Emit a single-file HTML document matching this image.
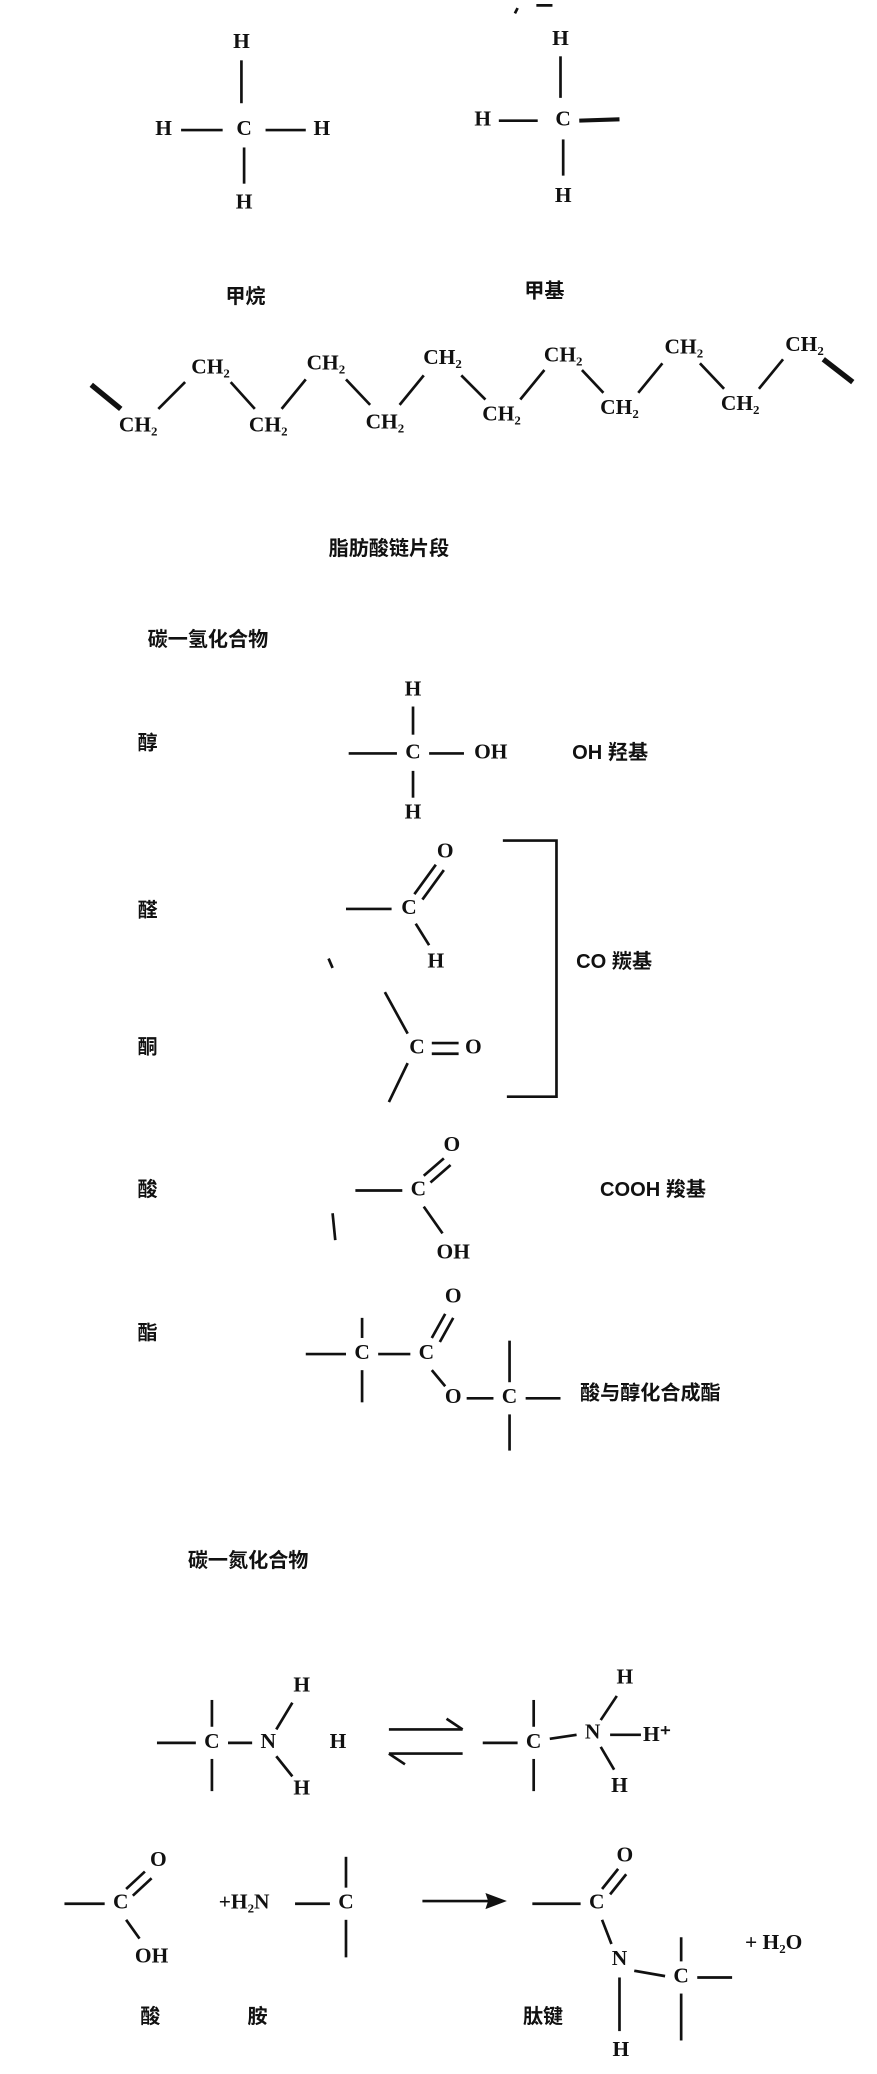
<!DOCTYPE html>
<html><head><meta charset="utf-8"><style>
html,body{margin:0;padding:0;background:#fff;}
svg{display:block}
text{font-family:"Liberation Serif","Noto Serif CJK SC",serif;font-size:16px;font-weight:bold;fill:#111;text-anchor:middle;dominant-baseline:middle}
.c{font-family:"Liberation Sans","Noto Sans CJK SC",sans-serif;font-size:15px}
line,path,polyline{stroke:#111;stroke-width:2;fill:none}
</style></head><body>
<svg width="877" height="2074" viewBox="0 0 654 1547" xmlns="http://www.w3.org/2000/svg">
<!-- methane -->
<text x="180" y="32">H</text><line x1="180" y1="45" x2="180" y2="77"/>
<text x="122" y="97">H</text><line x1="135" y1="97" x2="166" y2="97"/>
<text x="182" y="97">C</text><line x1="198" y1="97" x2="228" y2="97"/>
<text x="240" y="97">H</text><line x1="182" y1="110" x2="182" y2="137"/>
<text x="182" y="152">H</text>
<!-- methyl -->
<line x1="384" y1="10" x2="386" y2="6"/><line x1="400" y1="4" x2="412" y2="4"/>
<text x="418" y="30">H</text><line x1="418" y1="42" x2="418" y2="73"/>
<text x="360" y="90">H</text><line x1="372" y1="90" x2="401" y2="90"/>
<text x="420" y="90">C</text><line x1="432" y1="90" x2="462" y2="89" style="stroke-width:3"/>
<line x1="420" y1="104" x2="420" y2="131"/><text x="420" y="147">H</text>
<text class="c" x="183" y="222">甲烷</text><text class="c" x="406" y="218">甲基</text>
<!-- chain -->
<line x1="68" y1="287" x2="90" y2="305" style="stroke-width:4"/>
<text x="103" y="318">CH₂</text><text x="157" y="275">CH₂</text>
<text x="200" y="318">CH₂</text><text x="243" y="272">CH₂</text>
<text x="287" y="316">CH₂</text><text x="330" y="268">CH₂</text>
<text x="374" y="310">CH₂</text><text x="420" y="266">CH₂</text>
<text x="462" y="305">CH₂</text><text x="510" y="260">CH₂</text>
<text x="552" y="302">CH₂</text><text x="600" y="258">CH₂</text>
<line x1="118" y1="305" x2="138" y2="285"/><line x1="172" y1="285" x2="190" y2="305"/>
<line x1="210" y1="305" x2="228" y2="283"/><line x1="258" y1="283" x2="276" y2="302"/>
<line x1="298" y1="302" x2="316" y2="280"/><line x1="344" y1="280" x2="362" y2="298"/>
<line x1="388" y1="298" x2="406" y2="276"/><line x1="434" y1="276" x2="450" y2="293"/>
<line x1="476" y1="293" x2="494" y2="271"/><line x1="522" y1="271" x2="540" y2="290"/>
<line x1="566" y1="290" x2="584" y2="268"/><line x1="614" y1="268" x2="636" y2="285" style="stroke-width:4"/>
<text class="c" x="290" y="410">脂肪酸链片段</text>
<text class="c" x="155" y="478">碳一氢化合物</text>
<!-- alcohol -->
<text class="c" x="110" y="555">醇</text>
<text x="308" y="515">H</text><line x1="308" y1="527" x2="308" y2="548"/>
<line x1="260" y1="562" x2="296" y2="562"/><text x="308" y="562">C</text>
<line x1="320" y1="562" x2="346" y2="562"/><text x="366" y="562">OH</text>
<line x1="308" y1="575" x2="308" y2="595"/><text x="308" y="607">H</text>
<text class="c" x="455" y="562">OH 羟基</text>
<!-- aldehyde -->
<text class="c" x="110" y="680">醛</text>
<line x1="258" y1="678" x2="292" y2="678"/><text x="305" y="678">C</text>
<line x1="309" y1="667" x2="325" y2="645"/><line x1="315" y1="671" x2="331" y2="649"/>
<text x="332" y="636">O</text>
<line x1="310" y1="689" x2="320" y2="705"/><text x="325" y="718">H</text>
<line x1="245" y1="715" x2="248" y2="722"/>
<polyline points="375,627 415,627 415,818 378,818"/>
<text class="c" x="458" y="718">CO 羰基</text>
<!-- ketone -->
<text class="c" x="110" y="782">酮</text>
<line x1="287" y1="740" x2="304" y2="771"/><line x1="304" y1="793" x2="290" y2="822"/>
<text x="311" y="782">C</text><line x1="322" y1="778" x2="342" y2="778"/><line x1="322" y1="786" x2="342" y2="786"/>
<text x="353" y="782">O</text>
<!-- acid -->
<text class="c" x="110" y="888">酸</text>
<line x1="265" y1="888" x2="300" y2="888"/><text x="312" y="888">C</text>
<line x1="316" y1="877" x2="331" y2="864"/><line x1="321" y1="882" x2="336" y2="869"/>
<text x="337" y="855">O</text>
<line x1="316" y1="900" x2="330" y2="920"/><text x="338" y="935">OH</text>
<text class="c" x="487" y="888">COOH 羧基</text>
<line x1="248" y1="905" x2="250" y2="925"/>
<!-- ester -->
<text class="c" x="110" y="995">酯</text>
<line x1="228" y1="1010" x2="258" y2="1010"/><text x="270" y="1010">C</text>
<line x1="270" y1="983" x2="270" y2="998"/><line x1="270" y1="1022" x2="270" y2="1046"/>
<line x1="282" y1="1010" x2="306" y2="1010"/><text x="318" y="1010">C</text>
<line x1="322" y1="998" x2="332" y2="980"/><line x1="328" y1="1001" x2="338" y2="983"/>
<text x="338" y="968">O</text>
<line x1="322" y1="1022" x2="332" y2="1034"/><text x="338" y="1043">O</text>
<line x1="348" y1="1043" x2="368" y2="1043"/><text x="380" y="1043">C</text>
<line x1="380" y1="1000" x2="380" y2="1031"/><line x1="380" y1="1055" x2="380" y2="1082"/>
<line x1="392" y1="1043" x2="418" y2="1043"/>
<text class="c" x="485" y="1040">酸与醇化合成酯</text>
<text class="c" x="185" y="1165">碳一氮化合物</text>
<!-- amine -->
<line x1="117" y1="1300" x2="146" y2="1300"/><text x="158" y="1300">C</text>
<line x1="158" y1="1268" x2="158" y2="1288"/><line x1="158" y1="1312" x2="158" y2="1336"/>
<line x1="170" y1="1300" x2="188" y2="1300"/><text x="200" y="1300">N</text>
<line x1="206" y1="1290" x2="218" y2="1270"/><text x="225" y="1258">H</text>
<line x1="206" y1="1310" x2="218" y2="1325"/><text x="225" y="1335">H</text>
<text x="252" y="1300">H</text>
<line x1="290" y1="1290" x2="345" y2="1290"/><polyline points="333,1282 345,1290" />
<line x1="290" y1="1308" x2="345" y2="1308"/><polyline points="302,1316 290,1308"/>
<line x1="360" y1="1300" x2="386" y2="1300"/><text x="398" y="1300">C</text>
<line x1="398" y1="1268" x2="398" y2="1288"/><line x1="398" y1="1312" x2="398" y2="1336"/>
<line x1="410" y1="1297" x2="430" y2="1294"/><text x="442" y="1293">N</text>
<line x1="448" y1="1283" x2="460" y2="1265"/><text x="466" y="1252">H</text>
<line x1="448" y1="1303" x2="458" y2="1320"/><text x="462" y="1333">H</text>
<line x1="455" y1="1294" x2="478" y2="1294"/><text x="490" y="1295">H⁺</text>
<!-- peptide -->
<line x1="48" y1="1420" x2="78" y2="1420"/><text x="90" y="1420">C</text>
<line x1="94" y1="1409" x2="108" y2="1396"/><line x1="99" y1="1414" x2="113" y2="1401"/>
<text x="118" y="1388">O</text>
<line x1="94" y1="1432" x2="104" y2="1446"/><text x="113" y="1460">OH</text>
<text x="182" y="1420">+H₂N</text>
<line x1="220" y1="1420" x2="246" y2="1420"/><text x="258" y="1420">C</text>
<line x1="258" y1="1385" x2="258" y2="1408"/><line x1="258" y1="1432" x2="258" y2="1460"/>
<line x1="315" y1="1418" x2="372" y2="1418"/><polygon points="378,1418 362,1412 364,1418 362,1424" fill="#111"/>
<line x1="397" y1="1420" x2="433" y2="1420"/><text x="445" y="1420">C</text>
<line x1="449" y1="1409" x2="461" y2="1394"/><line x1="455" y1="1413" x2="467" y2="1398"/>
<text x="466" y="1385">O</text>
<line x1="449" y1="1432" x2="456" y2="1450"/><text x="462" y="1462">N</text>
<line x1="462" y1="1475" x2="462" y2="1515"/><text x="463" y="1530">H</text>
<line x1="473" y1="1470" x2="496" y2="1474"/><text x="508" y="1475">C</text>
<line x1="508" y1="1445" x2="508" y2="1463"/><line x1="508" y1="1487" x2="508" y2="1522"/>
<line x1="520" y1="1475" x2="546" y2="1475"/>
<text x="577" y="1450">+ H₂O</text>
<text class="c" x="112" y="1505">酸</text><text class="c" x="192" y="1505">胺</text><text class="c" x="405" y="1505">肽键</text>
</svg>
</body></html>
